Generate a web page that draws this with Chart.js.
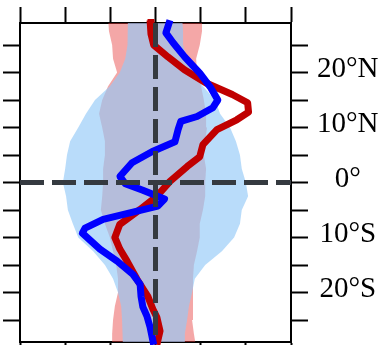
<!DOCTYPE html>
<html>
<head>
<meta charset="utf-8">
<script src="https://cdn.jsdelivr.net/npm/chart.js@4"></script>
<style>
  html, body { margin: 0; padding: 0; background: #fff; overflow: hidden; }
  #wrap { width: 387px; height: 362px; }
</style>
</head>
<body>
<div id="wrap"><canvas id="perfil"></canvas></div>
<script>
// --- profile lines (lat in deg, + = north) ---
const redLat = [29.5, 27, 25, 22.8, 20.5, 18.1, 16.0, 14.5, 12.8, 11.4, 9.6, 6.9, 4.7, 2.9, 0.2,
                -2.5, -4.9, -7.6, -10.0, -12.1, -14.3, -17.6, -20.7, -23.0, -24.5, -27.0, -29.5];
const redVal = [-0.12, -0.10, -0.04, 0.28, 0.64, 1.12, 1.70, 2.04, 2.06, 1.80, 1.36, 1.05, 0.98, 0.70, 0.32,
                0.03, -0.34, -0.79, -0.90, -0.79, -0.63, -0.41, -0.17, -0.06, 0.03, 0.10, 0.03];

const blueLat = [29.5, 27.2, 25.4, 22.8, 19.9, 17.4, 15.0, 13.6, 12.0, 11.1, 9.6, 7.4, 5.6, 3.6, 1.1,
                 -0.2, -1.4, -3.0, -4.3, -5.4, -6.7, -8.3, -9.2, -12.1, -14.3, -16.7, -18.5, -20.7,
                 -22.6, -24.3, -26.3, -29.5];
const blueVal = [0.32, 0.23, 0.39, 0.65, 0.98, 1.21, 1.38, 1.27, 0.92, 0.56, 0.50, 0.43, -0.08, -0.52, -0.79,
                 -0.67, -0.28, 0.20, 0.05, -0.50, -1.16, -1.56, -1.62, -1.23, -0.85, -0.50, -0.34, -0.32,
                 -0.28, -0.19, -0.12, -0.04];

// --- spread envelopes ---
const envLat = [30, 27.5, 25, 22.5, 20, 17.5, 15, 12.5, 10, 7.5, 5, 2.5, 0,
                -2.5, -5, -7.5, -10, -12.5, -15, -17.5, -20, -22.5, -25, -27.5, -30];
const redLo  = [-1.05, -1.03, -0.96, -0.94, -0.85, -1.05, -1.18, -1.25, -1.18, -1.12, -1.12, -1.16, -1.16,
                -1.18, -1.21, -1.12, -1.01, -0.94, -0.87, -0.83, -0.83, -0.90, -0.94, -0.96, -0.96];
const redHi  = [1.03, 1.03, 0.98, 0.90, 0.92, 1.01, 1.07, 1.12, 1.14, 1.10, 1.07, 1.12, 1.10,
                1.10, 1.05, 0.98, 0.98, 0.92, 0.85, 0.83, 0.83, 0.83, 0.81, 0.85, 0.90];
const blueLo = [-0.61, -0.61, -0.63, -0.67, -0.79, -1.01, -1.34, -1.54, -1.71, -1.89, -1.96, -2.00, -2.05,
                -1.98, -1.94, -1.83, -1.71, -1.38, -1.12, -0.94, -0.83, -0.76, -0.74, -0.72, -0.72];
const blueHi = [0.59, 0.61, 0.61, 0.70, 0.85, 1.05, 1.32, 1.43, 1.65, 1.78, 1.87, 1.91, 2.00,
                2.05, 1.91, 1.87, 1.74, 1.47, 1.10, 0.87, 0.81, 0.74, 0.70, 0.65, 0.65];

// --- axes ---
const xMin = -3, xMax = 3;
const latMin = -29, latMax = 29;
const latTicks  = [20, 10, 0, -10, -20];
const latLabels = ['20°N', '10°N', '0°', '10°S', '20°S'];

function profile(lats, vals) {
    return lats.map((lat, i) => ({ x: vals[i], y: lat }));
}

// closed polygon: down the left edge, back up the right edge
function envelope(lo, hi) {
    const pts = envLat.map((lat, i) => ({ x: lo[i], y: lat }));
    for (let i = envLat.length - 1; i >= 0; i--) pts.push({ x: hi[i], y: envLat[i] });
    return pts;
}

const tickGrid = len => ({ drawOnChartArea: false, tickLength: len, tickColor: '#000', tickWidth: 2 });
const frame = { display: true, color: '#000', width: 2 };
const dashStyle = { borderColor: '#353a40', borderWidth: 5, borderDash: [24, 8], order: 1 };

new Chart(document.getElementById('perfil'), {
    type: 'line',
    data: {
        datasets: [
            { data: [{ x: 0, y: latMax }, { x: 0, y: latMin }], ...dashStyle },
            { data: [{ x: xMin, y: 0 }, { x: xMax, y: 0 }], ...dashStyle },
            { data: profile(blueLat, blueVal), borderColor: '#0000ff', borderWidth: 7, order: 3,
              borderJoinStyle: 'round', clip: { left: 0, top: 4, right: 0, bottom: 4 } },
            { data: profile(redLat, redVal), borderColor: '#c00000', borderWidth: 7, order: 4,
              borderJoinStyle: 'round', clip: { left: 0, top: 4, right: 0, bottom: 4 } },
            { data: envelope(blueLo, blueHi), borderColor: 'rgba(0,0,0,0)', borderWidth: 0,
              backgroundColor: 'rgba(148,201,248,0.65)', fill: 'shape', order: 5 },
            { data: envelope(redLo, redHi), borderColor: 'rgba(0,0,0,0)', borderWidth: 0,
              backgroundColor: 'rgba(230,60,60,0.45)', fill: 'shape', order: 6 }
        ]
    },
    options: {
        indexAxis: 'y',
        responsive: true,
        maintainAspectRatio: false,
        animation: false,
        layout: { padding: { left: 3, top: 7, right: 0, bottom: 4 } },
        elements: { point: { radius: 0 }, line: { tension: 0, borderCapStyle: 'butt' } },
        plugins: { legend: { display: false }, tooltip: { enabled: false } },
        scales: {
            x: { type: 'linear', position: 'top', min: xMin, max: xMax,
                 ticks: { display: false, stepSize: 1 }, grid: tickGrid(16), border: frame },
            x2: { type: 'linear', position: 'bottom', min: xMin, max: xMax,
                  ticks: { display: false, stepSize: 1 }, grid: tickGrid(16), border: frame },
            y: { type: 'linear', position: 'left', min: latMin, max: latMax,
                 ticks: { display: false, stepSize: 5, includeBounds: false }, grid: tickGrid(17), border: frame },
            y2: { type: 'linear', position: 'right', min: latMin, max: latMax,
                  grid: tickGrid(17), border: frame,
                  ticks: {
                      stepSize: 5, includeBounds: false, autoSkip: false,
                      padding: 9, crossAlign: 'center', labelOffset: -3,
                      color: '#000',
                      font: { family: "'Liberation Serif', 'Times New Roman', serif", size: 29, lineHeight: 0.5 },
                      callback: v => { const i = latTicks.indexOf(v); return i >= 0 ? latLabels[i] : ''; }
                  } }
        }
    }
});
</script>
</body>
</html>
